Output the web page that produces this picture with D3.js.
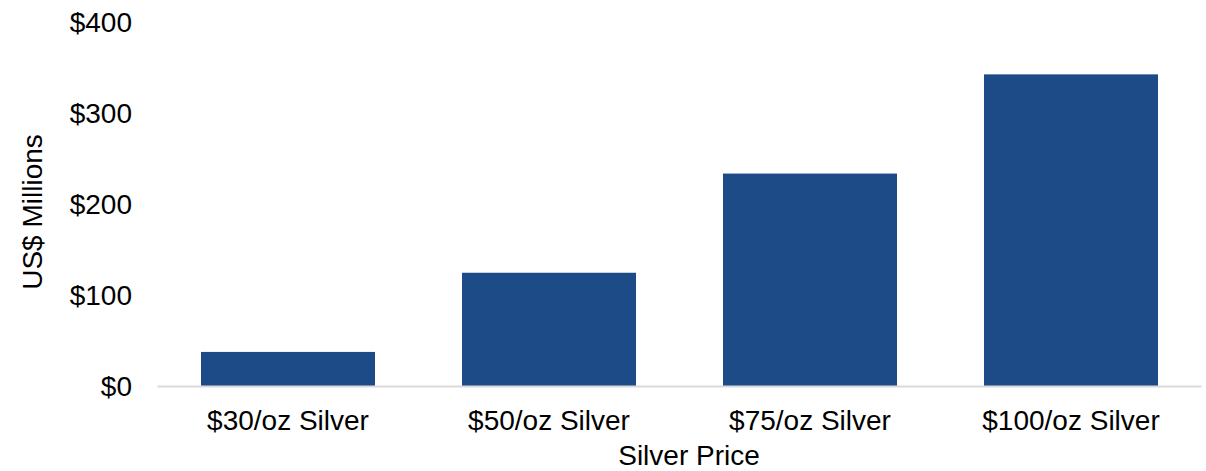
<!DOCTYPE html>
<html><head><meta charset="utf-8">
<script src="https://cdn.jsdelivr.net/npm/d3@7"></script>
<style>body{margin:0;background:#fff}svg{display:block;font-family:"Liberation Sans",Arial,sans-serif}</style>
</head><body><svg id="c" width="1206" height="471"></svg>
<script>
const categories = ["$30/oz Silver","$50/oz Silver","$75/oz Silver","$100/oz Silver"];
const values = [38, 125, 234, 343];
const yTicks = [0,100,200,300,400];
const yTitle = "US$ Millions";
const xTitle = "Silver Price";

const svg = d3.select("#c");
const x = d3.scaleBand().domain(categories).range([157.5,1201.5]).paddingInner(1/3).paddingOuter(1/6);
const y = d3.scaleLinear().domain([0,400]).range([386.5,22.5]);

svg.append("g").selectAll("rect").data(values).join("rect")
  .attr("x",(d,i)=>x(categories[i])).attr("width",x.bandwidth())
  .attr("y",d=>y(d)).attr("height",d=>y(0)-y(d)).attr("fill","#1c4b87");

const ya = svg.append("g").attr("transform","translate(158,0)")
  .call(d3.axisLeft(y).tickValues(yTicks).tickFormat(d=>"$"+d).tickSize(0).tickPadding(26));
ya.select(".domain").remove();
ya.selectAll("text").attr("font-size",28).attr("fill","#000").attr("font-family","Liberation Sans, Arial, sans-serif");

const xa = svg.append("g").attr("transform",`translate(0,${y(0)})`)
  .call(d3.axisBottom(x).tickSize(0).tickPadding(24));
xa.select(".domain").attr("stroke","#d9d9d9").attr("stroke-width",2).attr("d","M157.5,0H1201.5");
xa.selectAll("text").attr("font-size",28).attr("fill","#000").attr("font-family","Liberation Sans, Arial, sans-serif");

svg.append("text").attr("transform","translate(42,212) rotate(-90)").attr("text-anchor","middle")
  .attr("font-size",28).text(yTitle);
svg.append("text").attr("x",689).attr("y",465).attr("text-anchor","middle").attr("font-size",28).text(xTitle);
</script></body></html>
